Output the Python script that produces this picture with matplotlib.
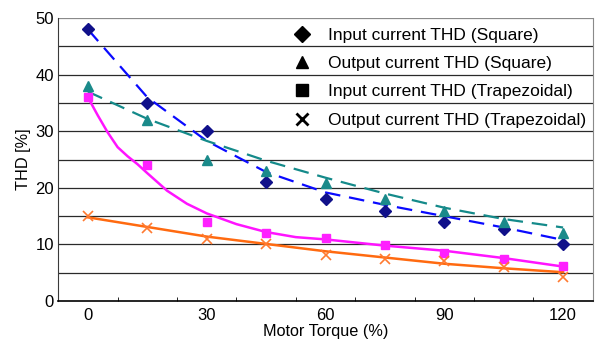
import matplotlib
matplotlib.use("Agg")
import matplotlib.pyplot as plt
from matplotlib.lines import Line2D

plt.rcParams["font.family"] = ["Liberation Sans", "DejaVu Sans"]

# measured points
torque = [0, 15, 30, 45, 60, 75, 90, 105, 120]
in_square = [48, 35, 30, 21, 18, 16, 14, 12.8, 10]
out_square = [38, 32, 25, 23, 20.8, 18, 16, 14, 12.1]
in_trap = [36, 24, 14, 12, 11.1, 9.9, 8.5, 7.4, 6.2]
out_trap = [15, 13, 11, 10, 8.1, 7.4, 7.1, 6.0, 4.3]

# trend lines
trend_x = [0, 15, 30, 45, 60, 75, 90, 105, 120]
in_square_trend = [48.0, 36.0, 28.3, 22.8, 19.2, 17.0, 15.0, 13.0, 10.8]
out_square_trend = [37.0, 32.2, 28.3, 24.8, 21.8, 19.0, 16.5, 14.5, 13.0]
out_trap_trend = [14.8, 13.1, 11.4, 10.1, 8.8, 7.7, 6.6, 5.8, 5.1]
in_trap_trend_x = [0, 2.5, 5, 7.5, 10, 12.5, 15, 20, 25, 30, 37.5, 45, 52.5, 60, 75, 90, 105, 120]
in_trap_trend = [36, 32.8, 29.8, 27.2, 25.6, 24.2, 22.6, 19.5, 17.2, 15.5, 13.6, 12.2,
                 11.3, 10.9, 9.8, 8.9, 7.6, 6.1]

x_ticks = [0, 30, 60, 90, 120]
y_ticks = [0, 10, 20, 30, 40, 50]

labels = ["Input current THD (Square)", "Output current THD (Square)",
          "Input current THD (Trapezoidal)", "Output current THD (Trapezoidal)"]

fig = plt.figure(figsize=(6, 3.41), dpi=100)
ax = fig.add_axes([0.097, 0.117, 0.891, 0.830])

# grid
for y in range(5, 51, 5):
    ax.axhline(y, color="#2a2a2a" if y < 50 else "#8a8a8a", lw=0.9, zorder=1)

ax.plot(trend_x, in_square_trend, color="#0a0aff", lw=1.6, ls=(0, (7, 4)), zorder=3)
ax.plot(trend_x, out_square_trend, color="#148a8a", lw=1.6, ls=(0, (7, 4)), zorder=3)
ax.plot(in_trap_trend_x, in_trap_trend, color="#ff14ff", lw=1.8, zorder=3)
ax.plot(trend_x, out_trap_trend, color="#ff6a10", lw=1.8, zorder=3)

ax.plot(torque, in_square, ls="none", marker="D", ms=6, color="#10108a", zorder=4)
ax.plot(torque, out_square, ls="none", marker="^", ms=7, color="#1a8a8a", zorder=4)
ax.plot(torque, in_trap, ls="none", marker="s", ms=6, color="#ff20ff", zorder=4)
ax.plot(torque, out_trap, ls="none", marker="x", ms=7, mew=1.2, color="#ff7a30", zorder=4)

ax.set_xlim(-7.5, 127.5)
ax.set_ylim(0, 50)
ax.set_xticks(x_ticks)
ax.set_xticks([7.5 + 15 * i for i in range(8)], minor=True)
ax.set_yticks(y_ticks)
ax.tick_params(axis="both", which="major", length=0, labelsize=12, pad=5)
ax.tick_params(axis="x", which="minor", direction="in", length=3, color="black")
ax.tick_params(axis="y", pad=3)

ax.spines["top"].set_visible(False)
ax.spines["right"].set_color("#8a8a8a")
ax.spines["left"].set_color("#3a3a3a")
ax.spines["bottom"].set_linewidth(1.2)

ax.set_xlabel("Motor Torque (%)", fontsize=11.7, labelpad=1)
ax.set_ylabel("THD [%]", fontsize=11.7, labelpad=3)

handles = [
    Line2D([], [], ls="none", marker="D", ms=8, color="black"),
    Line2D([], [], ls="none", marker="^", ms=9, color="black"),
    Line2D([], [], ls="none", marker="s", ms=8, color="black"),
    Line2D([], [], ls="none", marker="x", ms=8, mew=2, color="black"),
]
leg = ax.legend(handles, labels, loc="upper left", bbox_to_anchor=(0.44, 0.965),
                frameon=False, fontsize=12.5, handlelength=1.0, handletextpad=1.0,
                labelspacing=0.75, borderaxespad=0, borderpad=0)

fig.savefig("out.png", dpi=100)
